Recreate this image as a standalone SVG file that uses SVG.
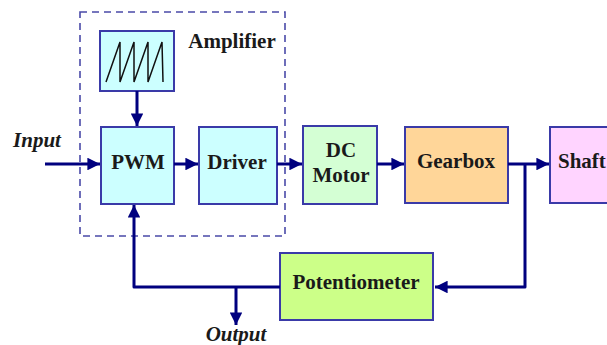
<svg xmlns="http://www.w3.org/2000/svg" width="607" height="345" viewBox="0 0 607 345">
<style>
.box{stroke:#3a3aa8;stroke-width:2}
.lbl{font-family:"Liberation Serif",serif;font-weight:bold;font-size:21px;fill:#1a1a1a;text-anchor:middle}
.io{font-family:"Liberation Serif",serif;font-weight:bold;font-style:italic;font-size:21px;fill:#1a1a1a;text-anchor:middle}
.ln{fill:none;stroke:#00007f;stroke-width:3;stroke-linejoin:round}
</style>
<defs>
<marker id="ah" viewBox="0 0 10 10" refX="10" refY="5" markerWidth="4.2" markerHeight="4.2" orient="auto" markerUnits="strokeWidth">
<path d="M0,0 L10,5 L0,10 z" fill="#00007f"/>
</marker>
</defs>
<rect x="80" y="12" width="205" height="224" fill="none" stroke="#4a4aa8" stroke-width="1.6" stroke-dasharray="7,5"/>
<text class="lbl" x="232" y="48">Amplifier</text>
<g id="sawtooth">
<rect class="box" x="100" y="31" width="74" height="60" fill="#ccffff"/>
<path d="M106,82 L120,42 L120,82 L134,42 L134,82 L148,42 L148,82 L162,42 L163,82" fill="none" stroke="#111" stroke-width="1.5"/>
</g>
<g id="pwm">
<rect class="box" x="101" y="127" width="73" height="77" fill="#ccffff"/>
<text class="lbl" x="138" y="169">PWM</text>
</g>
<g id="driver">
<rect class="box" x="199" y="127" width="78" height="77" fill="#ccffff"/>
<text class="lbl" x="237" y="169">Driver</text>
</g>
<g id="dcmotor">
<rect class="box" x="303" y="126" width="74" height="78" fill="#d4ffd4"/>
<text class="lbl" x="341" y="157">DC</text>
<text class="lbl" x="341" y="182">Motor</text>
</g>
<g id="gearbox">
<rect class="box" x="405" y="127" width="103" height="76" fill="#ffd699"/>
<text class="lbl" x="456" y="168">Gearbox</text>
</g>
<g id="shaft">
<rect class="box" x="550" y="127" width="70" height="76" fill="#ffd4ff"/>
<text class="lbl" x="558" y="168" text-anchor="start" style="text-anchor:start">Shaft</text>
</g>
<g id="potentiometer">
<rect class="box" x="280" y="253" width="153" height="67" fill="#ccff88"/>
<text class="lbl" x="356" y="289">Potentiometer</text>
</g>
<text class="io" x="37" y="147">Input</text>
<text class="io" x="236" y="341">Output</text>
<g id="connectors">
<line class="ln" x1="45" y1="164" x2="100" y2="164" marker-end="url(#ah)"/>
<line class="ln" x1="137" y1="91" x2="137" y2="126" marker-end="url(#ah)"/>
<line class="ln" x1="174" y1="164" x2="198" y2="164" marker-end="url(#ah)"/>
<line class="ln" x1="277" y1="164" x2="302" y2="164" marker-end="url(#ah)"/>
<line class="ln" x1="377" y1="164" x2="404" y2="164" marker-end="url(#ah)"/>
<line class="ln" x1="508" y1="164" x2="549" y2="164" marker-end="url(#ah)"/>
<polyline class="ln" points="525,164 525,287 435,287" marker-end="url(#ah)"/>
<polyline class="ln" points="280,287 134,287 134,205" marker-end="url(#ah)"/>
<line class="ln" x1="236" y1="287" x2="236" y2="325" marker-end="url(#ah)"/>
</g>
</svg>
